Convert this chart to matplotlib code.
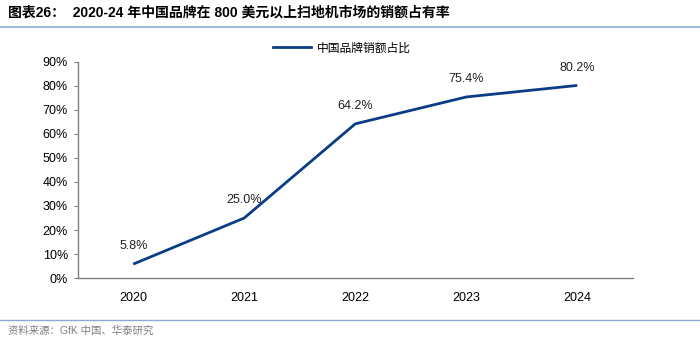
import matplotlib.pyplot as plt
from matplotlib.lines import Line2D

plt.rcParams['font.family'] = ['Liberation Sans', 'Noto Sans CJK SC', 'DejaVu Sans']

# データ
years = ["2020", "2021", "2022", "2023", "2024"]
share = [5.8, 25.0, 64.2, 75.4, 80.2]
y_ticks = [0, 10, 20, 30, 40, 50, 60, 70, 80, 90]

line_color = "#0b3d86"
axis_color = "#808080"
rule_color = "#8eaad3"

fig = plt.figure(figsize=(7, 3.42), dpi=100)
ax = fig.add_axes([0.111, 0.187, 0.793, 0.632])

x = list(range(len(years)))
ax.plot(x, share, color=line_color, linewidth=2.0, solid_capstyle="butt")
for xi, v in zip(x, share):
    ax.annotate(f"{v:.1f}%", (xi, v), xytext=(0, 8.5), textcoords="offset points",
                ha="center", va="bottom", fontsize=9, color="#222222")

ax.set_xlim(-0.5, len(years) - 0.5)
ax.set_ylim(0, 90)
ax.set_xticks(x)
ax.set_xticklabels(years, fontsize=9)
ax.set_yticks(y_ticks)
ax.set_yticklabels([f"{t}%" for t in y_ticks], fontsize=9)
ax.tick_params(axis="x", length=0, pad=10)
ax.tick_params(axis="y", length=3, width=0.8, color=axis_color, pad=4)

for s in ["top", "right"]:
    ax.spines[s].set_visible(False)
for s in ["left", "bottom"]:
    ax.spines[s].set_color(axis_color)
    ax.spines[s].set_linewidth(1.0)

# 凡例
fig.legend(handles=[Line2D([], [], color=line_color, linewidth=2.0)],
           labels=["中国品牌销额占比"], loc="center", bbox_to_anchor=(0.488, 0.86),
           frameon=False, handlelength=3.2, handletextpad=0.5,
           prop={"family": ["Noto Sans CJK SC"], "size": 8.5})

# タイトルと出典
fig.text(0.012, 0.962, "图表26：  2020-24 年中国品牌在 800 美元以上扫地机市场的销额占有率",
         fontsize=10, fontweight="bold", va="center", ha="left")
fig.add_artist(Line2D([0.0, 1.0], [0.922, 0.922], transform=fig.transFigure,
                      color=rule_color, linewidth=1.2))
fig.add_artist(Line2D([0.0, 1.0], [0.064, 0.064], transform=fig.transFigure,
                      color=rule_color, linewidth=1.0))
fig.text(0.012, 0.033, "资料来源：GfK 中国、华泰研究", fontsize=7.5, color="#7f7f7f",
         va="center", ha="left")

fig.savefig("out.png", dpi=100)
